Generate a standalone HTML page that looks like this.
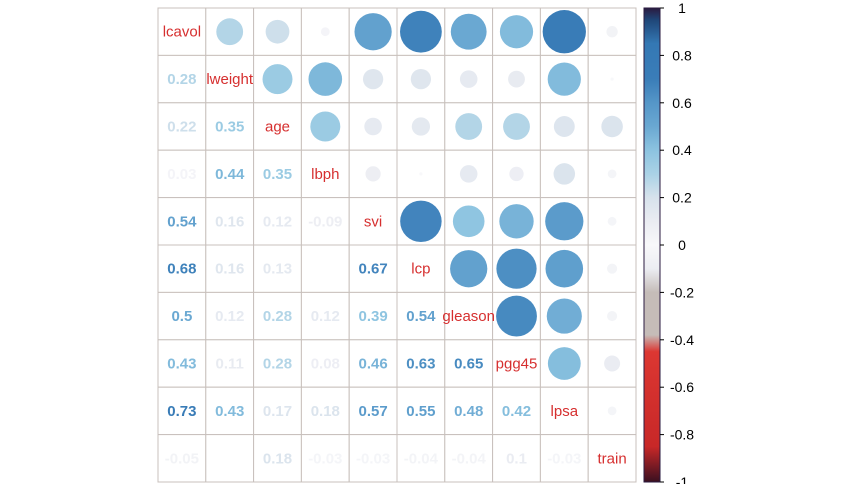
<!DOCTYPE html>
<html><head><meta charset="utf-8"><style>
body{margin:0;background:#fff;width:842px;height:484px;overflow:hidden;font-family:"Liberation Sans",sans-serif}
</style></head><body>
<svg id="chart" width="842" height="484"></svg>
<script>
const variables=["lcavol","lweight","age","lbph","svi","lcp","gleason","pgg45","lpsa","train"];
const corrRow1=[0.28];
const corrRow2=[0.22,0.35];
const corrRow3=[0.03,0.44,0.35];
const corrRow4=[0.54,0.16,0.12,-0.09];
const corrRow5=[0.68,0.16,0.13,-0.004,0.67];
const corrRow6=[0.5,0.12,0.28,0.12,0.39,0.54];
const corrRow7=[0.43,0.11,0.28,0.08,0.46,0.63,0.65];
const corrRow8=[0.73,0.43,0.17,0.18,0.57,0.55,0.48,0.42];
const corrRow9=[-0.05,0.004,0.18,-0.03,-0.03,-0.04,-0.04,0.1,-0.03];
const colorTicks=[1,0.8,0.6,0.4,0.2,0,-0.2,-0.4,-0.6,-0.8,-1];
const lower=[[],corrRow1,corrRow2,corrRow3,corrRow4,corrRow5,corrRow6,corrRow7,corrRow8,corrRow9];
const NS="http://www.w3.org/2000/svg";
const svg=document.getElementById("chart");
const X0=158,Y0=8,CW=47.8,CH=47.4,n=variables.length;
function mk(t,a,p){const e=document.createElementNS(NS,t);for(const k in a)e.setAttribute(k,a[k]);(p||svg).appendChild(e);return e;}
const stops=[[-1,[58,16,32]],[-0.85,[200,40,40]],[-0.45,[220,55,50]],[-0.38,[197,188,184]],[-0.2,[197,188,184]],[-0.1,[236,237,242]],[0,[248,248,250]],[0.1,[234,236,242]],[0.2,[215,226,236]],[0.3,[170,210,230]],[0.4,[140,195,224]],[0.5,[106,168,210]],[0.6,[85,150,200]],[0.7,[58,125,184]],[0.85,[52,120,180]],[0.95,[31,70,120]],[1,[42,26,63]]];
function col(v){for(let i=1;i<stops.length;i++){if(v<=stops[i][0]){const a=stops[i-1],b=stops[i],t=(v-a[0])/(b[0]-a[0]);return "rgb("+a[1].map((c,j)=>Math.round(c+(b[1][j]-c)*t)).join(",")+")";}}return "rgb(42,26,63)";}
function cx(j){return X0+CW*(j+0.5);}function cy(i){return Y0+CH*(i+0.5);}
for(let i=0;i<n;i++)for(let j=0;j<n;j++){
  const r=mk("rect",{x:X0+CW*j,y:Y0+CH*i,width:CW,height:CH,fill:"#fff",stroke:"#c8c0bc","stroke-width":1});
  
  
}
for(let i=0;i<n;i++){
  const t=mk("text",{x:cx(i),y:cy(i)+5,"text-anchor":"middle","font-size":15,fill:"#d62f2f"});
  t.textContent=variables[i];
  
  
  for(let j=0;j<i;j++){
    const v=lower[i][j];
    if(Math.abs(v)>=0.005){
      const tx=mk("text",{x:cx(j),y:cy(i)+5,"text-anchor":"middle","font-size":15,"font-weight":"bold",fill:col(v)});
      tx.textContent=String(Math.round(v*100)/100);
      
      
    }
    const c=mk("circle",{cx:cx(i),cy:cy(j),r:Math.min(Math.sqrt(Math.abs(v))*CW*0.53,CH/2-0.5),fill:col(v)});
    
    
  }
}
const BX=644,BW=16,BT=8,BB=482;
const defs=mk("defs",{});
const lg=mk("linearGradient",{id:"cg",x1:0,y1:0,x2:0,y2:1},defs);
for(let k=stops.length-1;k>=0;k--){mk("stop",{offset:((1-stops[k][0])/2),"stop-color":col(stops[k][0])},lg);}
const bar=mk("rect",{x:BX,y:BT,width:BW,height:BB-BT,fill:"url(#cg)",stroke:"#2a1a3f","stroke-width":1});


colorTicks.forEach(v=>{
  const y=BT+(1-v)/2*(BB-BT);
  mk("line",{x1:BX+BW,x2:BX+BW+4,y1:y,y2:y,stroke:"#000"});
  const t=mk("text",{x:682,y:y+5,"text-anchor":"middle","font-size":14,fill:"#000"});
  t.textContent=String(v);
  
  
});
</script>
</body></html>
